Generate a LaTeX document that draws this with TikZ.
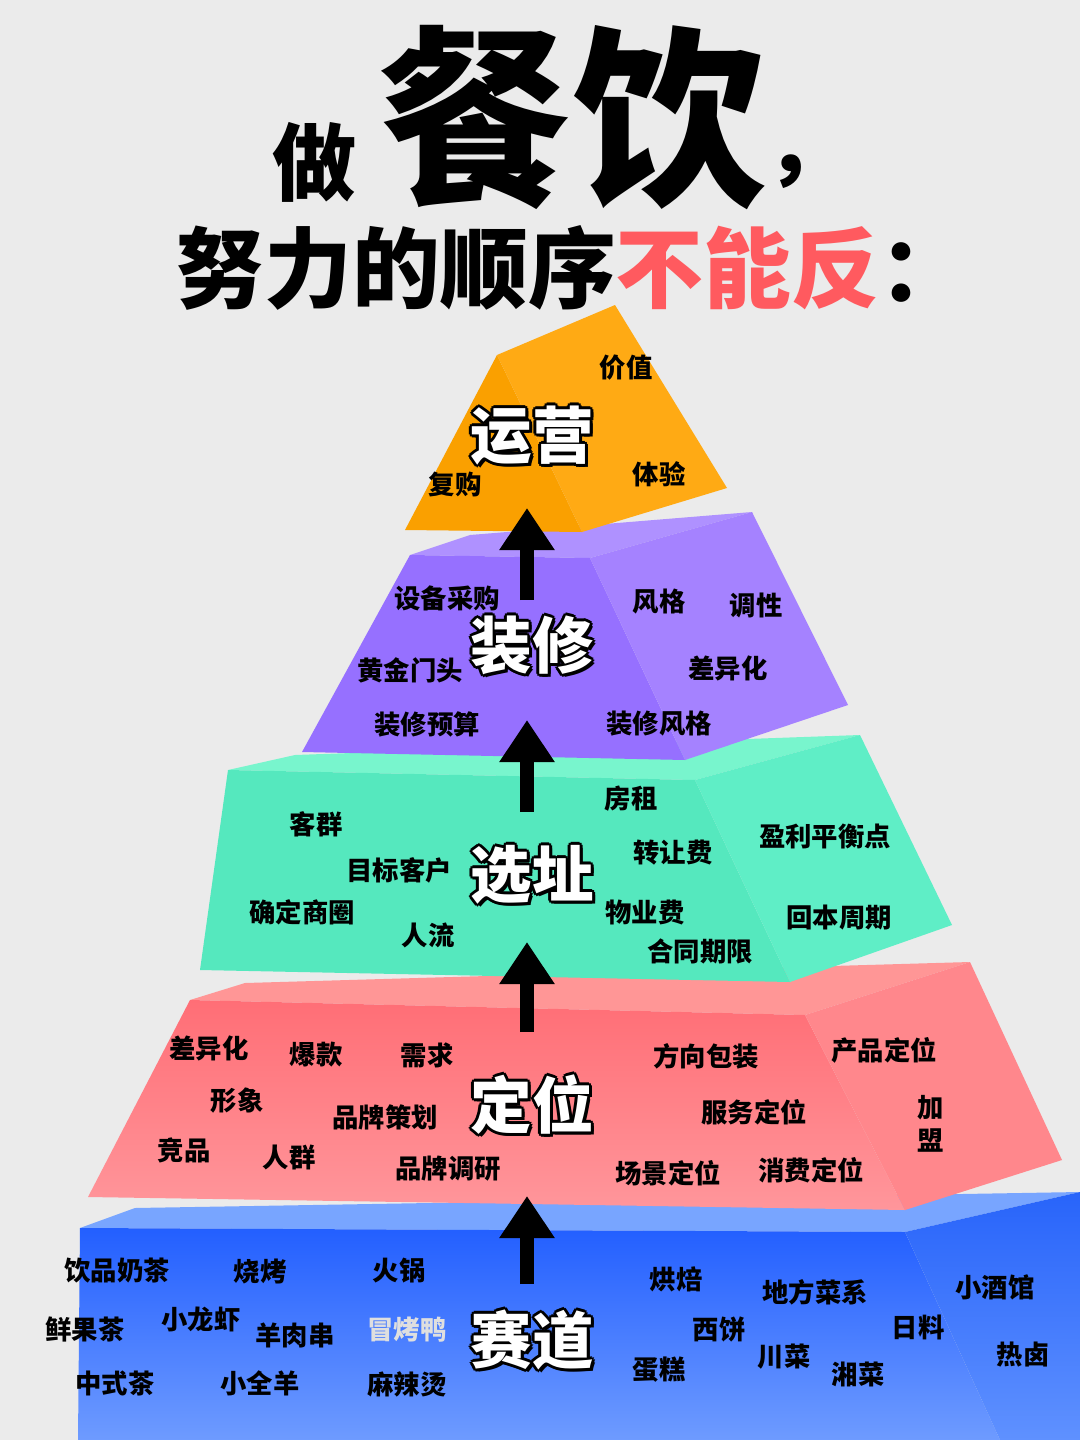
\documentclass[tikz,border=0pt]{standalone}
\usepackage{fontspec}
\setmainfont{Noto Sans CJK SC}
\usetikzlibrary{arrows.meta}
\definecolor{bggray}{HTML}{EBEBEB}
\definecolor{titlered}{HTML}{FF5A5F}

\tikzset{
  item/.style={font=\bfseries\fontsize{15}{15}\selectfont, inner sep=0pt},
  up/.style={-{Triangle[width=30pt,length=24pt]}, line width=8pt},
  face/.style={draw=none}
}
% outlined layer title: black copies round, white on top
\newcommand\layertitle[3]{%
  \foreach \dx/\dy in {-3/0,3/0,0/-3,0/3,-2/-2,2/2,-2/2,2/-2,3/3}
    \node[font=\bfseries\fontsize{35}{35}\selectfont, text=black] at ([shift={(\dx,\dy)}]#2) {#3};
  \node[font=\bfseries\fontsize{35}{35}\selectfont, text=white] (#1) at (#2) {#3};
}

\begin{document}
\begin{tikzpicture}[x=0.02cm, y=-0.02cm]
\fill[bggray] (0,0) rectangle (1080,1440);
\useasboundingbox (0,0) rectangle (1080,1440);

% title
\node[font=\bfseries\fontsize{48}{48}\selectfont] (zuo) at (315,162) {做};
\node[font=\bfseries\fontsize{110}{110}\selectfont] (canyin) at (572,118) {餐饮};
\node[font=\bfseries\fontsize{48}{48}\selectfont] (comma) at (808,172) {，};
\node[font=\bfseries\fontsize{50}{50}\selectfont] (line2) at (572,268)
  {努力的顺序\textcolor{titlered}{不能反}：};

% % blue layer
\fill[face, fill={rgb,255:red,120;green,165;blue,255}] (80,1228) -- (135,1208) -- (1080,1192) -- (905,1232) -- cycle;
\shade[face, top color={rgb,255:red,35;green,95;blue,255}, bottom color={rgb,255:red,110;green,155;blue,255}] (80,1228) -- (905,1232) -- (1000,1440) -- (78,1440) -- cycle;
\shade[face, top color={rgb,255:red,40;green,100;blue,250}, bottom color={rgb,255:red,95;green,145;blue,255}] (905,1232) -- (1080,1192) -- (1080,1440) -- (1000,1440) -- cycle;

% % red layer
\fill[face, fill={rgb,255:red,255;green,150;blue,150}] (190,1000) -- (245,983) -- (970,962) -- (805,1015) -- cycle;
\shade[face, top color={rgb,255:red,255;green,110;blue,118}, bottom color={rgb,255:red,255;green,150;blue,155}] (190,1000) -- (805,1015) -- (905,1210) -- (88,1197) -- cycle;
\fill[face, fill={rgb,255:red,255;green,135;blue,140}] (805,1015) -- (970,962) -- (1062,1160) -- (905,1210) -- cycle;

% % green layer
\fill[face, fill={rgb,255:red,120;green,245;blue,205}] (228,770) -- (295,755) -- (860,735) -- (695,780) -- cycle;
\fill[face, fill={rgb,255:red,85;green,232;blue,190}] (228,770) -- (695,780) -- (790,982) -- (200,970) -- cycle;
\fill[face, fill={rgb,255:red,95;green,238;blue,198}] (695,780) -- (860,735) -- (952,925) -- (790,982) -- cycle;

% % purple layer
\fill[face, fill={rgb,255:red,175;green,145;blue,255}] (410,555) -- (470,535) -- (752,512) -- (590,558) -- cycle;
\fill[face, fill={rgb,255:red,150;green,112;blue,255}] (410,555) -- (590,558) -- (685,760) -- (302,752) -- cycle;
\fill[face, fill={rgb,255:red,165;green,130;blue,255}] (590,558) -- (752,512) -- (848,705) -- (685,760) -- cycle;

% % orange top
\fill[face, fill={rgb,255:red,250;green,160;blue,0}] (497,355) -- (582,532) -- (405,530) -- cycle;
\fill[face, fill={rgb,255:red,255;green,170;blue,20}] (497,355) -- (615,305) -- (727,488) -- (582,532) -- cycle;

% arrows
\coordinate (a1s) at (527,1284); \coordinate (a1e) at (527,1196);
\coordinate (a2s) at (527,1032); \coordinate (a2e) at (527,942);
\coordinate (a3s) at (527,812);  \coordinate (a3e) at (527,720);
\coordinate (a4s) at (527,600);  \coordinate (a4e) at (527,508);
\foreach \i in {1,...,4}
  \draw[up] (a\i s) -- (a\i e);

% orange items
\node[item] (jiazhi) at (626,368) {价值};
\node[item] (fugou) at (455,484) {复购};
\node[item] (tiyan) at (659,474) {体验};
\layertitle{yunying}{532,436}{运营}

% purple items
\node[item] (shebei) at (447,598) {设备采购};
\node[item] (fengge) at (659,602) {风格};
\node[item] (diaoxing) at (756,605) {调性};
\node[item] (huangjin) at (410,670) {黄金门头};
\node[item] (chayi1) at (728,668) {差异化};
\node[item] (yusuan) at (427,724) {装修预算};
\node[item] (zxfengge) at (659,724) {装修风格};
\layertitle{zhuangxiu}{532,645}{装修}

% green items
\node[item] (fangzu) at (631,799) {房租};
\node[item] (kequn) at (316,824) {客群};
\node[item] (yingli) at (825,836) {盈利平衡点};
\node[item] (zhuanrang) at (673,853) {转让费};
\node[item] (mubiao) at (399,870) {目标客户};
\node[item] (shangquan) at (302,912) {确定商圈};
\node[item] (wuye) at (645,912) {物业费};
\node[item] (huiben) at (839,918) {回本周期};
\node[item] (renliu) at (428,935) {人流};
\node[item] (hetong) at (700,951) {合同期限};
\layertitle{xuanzhi}{532,875}{选址}

% red items
\node[item] (chayi2) at (209,1048) {差异化};
\node[item] (baokuan) at (316,1055) {爆款};
\node[item] (xuqiu) at (427,1055) {需求};
\node[item] (baozhuang) at (706,1056) {方向包装};
\node[item] (chanpin) at (884,1050) {产品定位};
\node[item] (xingxiang) at (237,1101) {形象};
\node[item] (cehua) at (385,1117) {品牌策划};
\node[item] (fuwu) at (754,1112) {服务定位};
\node[item, align=center] (jiameng) at (931,1124) {加\\[4pt]盟};
\node[item] (jingpin) at (184,1150) {竞品};
\node[item] (renqun) at (289,1157) {人群};
\node[item] (diaoyan) at (448,1169) {品牌调研};
\node[item] (changjing) at (668,1173) {场景定位};
\node[item] (xiaofei) at (811,1170) {消费定位};
\layertitle{dingwei}{532,1105}{定位}

% blue items
\node[item] (naicha) at (117,1271) {饮品奶茶};
\node[item] (shaokao) at (260,1271) {烧烤};
\node[item] (huoguo) at (399,1271) {火锅};
\node[item] (hongbei) at (676,1279) {烘焙};
\node[item] (caixi) at (815,1292) {地方菜系};
\node[item] (jiuguan) at (995,1287) {小酒馆};
\node[item] (guocha) at (85,1329) {鲜果茶};
\node[item] (longxia) at (201,1319) {小龙虾};
\node[item] (rouchuan) at (295,1335) {羊肉串};
\node[item, text=gray!25] (kaoya) at (407,1330) {冒烤鸭};
\node[item] (xibing) at (719,1329) {西饼};
\node[item] (riliao) at (918,1327) {日料};
\node[item] (relu) at (1023,1355) {热卤};
\node[item] (zhongshi) at (115,1383) {中式茶};
\node[item] (quanyang) at (260,1383) {小全羊};
\node[item] (malatang) at (407,1384) {麻辣烫};
\node[item] (chuancai) at (784,1357) {川菜};
\node[item] (xiangcai) at (858,1374) {湘菜};
\node[item] (dangao) at (659,1370) {蛋糕};
\layertitle{saidao}{532,1340}{赛道}
\end{tikzpicture}
\end{document}
